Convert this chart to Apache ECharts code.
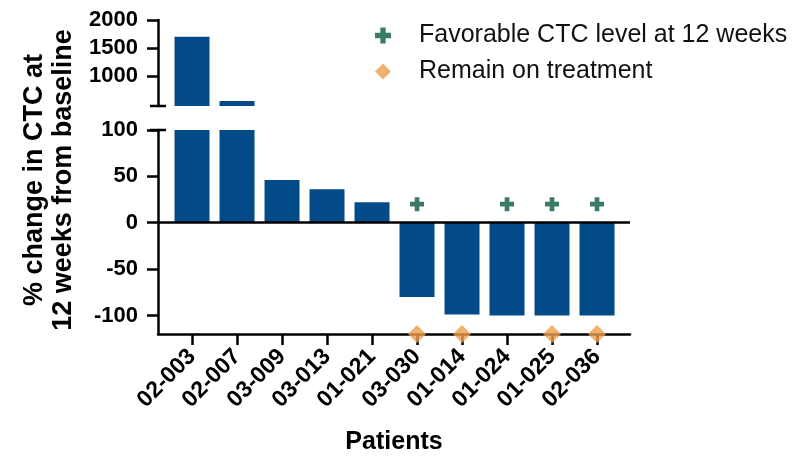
<!DOCTYPE html>
<html>
<head>
<meta charset="utf-8">
<script src="https://cdn.jsdelivr.net/npm/echarts@6/dist/echarts.min.js"></script>
<style>
  html, body { margin: 0; padding: 0; background: #fff; }
  #chart { width: 797px; height: 456px; }
</style>
</head>
<body>
<div id="chart"></div>
<script>
// data
const patients = ['02-003', '02-007', '03-009', '03-013', '01-021', '03-030', '01-014', '01-024', '01-025', '02-036'];
const pctChange = [1700, 550, 46, 36, 22, -80, -99, -100, -100, -100];
const favorable = ['03-030', '01-024', '01-025', '02-036'];
const onTreatment = ['03-030', '01-014', '01-025', '02-036'];
const favorableLevel = 20;
const treatmentLevel = -120;
const upperTicks = [1000, 1500, 2000];
const lowerTicks = [-100, -50, 0, 50, 100];

const FONT = "'Liberation Sans', Arial, sans-serif";
const BAR = '#034a88';
const GREEN = '#0a5a40';
const ORANGE = '#ee9d4c';
const PLUS = 'path://M4,0H8V4H12V8H8V12H4V8H0V4H4Z';

const idx = patients.map((p, i) => i);
const barData = pctChange.map((v, i) => [i, v]);
const favData = favorable.map(p => [patients.indexOf(p), favorableLevel]);
const treatData = onTreatment.map(p => [patients.indexOf(p), treatmentLevel]);

const axisStroke = { color: '#000', width: 2.5 };
const tickFont = { fontSize: 22, fontWeight: 'bold', color: '#000', fontFamily: FONT };

let chart = echarts.init(document.getElementById('chart'));
chart.setOption({
    animation: false,
    textStyle: { fontFamily: FONT },
    legend: {
        orient: 'vertical',
        left: 370,
        top: 18,
        itemWidth: 16,
        itemHeight: 16,
        itemGap: 11,
        textStyle: { fontSize: 25, color: '#111', fontFamily: FONT, padding: [0, 0, 0, 23] },
        data: ['Favorable CTC level at 12 weeks', 'Remain on treatment']
    },
    grid: [
        { left: 158, right: 167, top: 20, height: 86 },
        { left: 158, right: 167, top: 130, height: 204 }
    ],
    xAxis: [
        {
            gridIndex: 0, type: 'value', min: -0.756, max: 9.733,
            axisLine: { show: false }, axisTick: { show: false },
            axisLabel: { show: false }, splitLine: { show: false }
        },
        {
            gridIndex: 1, type: 'value', min: -0.756, max: 9.733,
            axisLine: { onZero: false, lineStyle: axisStroke },
            axisTick: { customValues: idx, length: 11, lineStyle: axisStroke },
            axisLabel: Object.assign({
                customValues: idx,
                formatter: v => patients[v],
                rotate: 45, margin: 19
            }, tickFont, { fontSize: 23 }),
            splitLine: { show: false },
            name: 'Patients',
            nameLocation: 'middle',
            nameGap: 96,
            nameTextStyle: { fontSize: 25, fontWeight: 'bold', color: '#000', fontFamily: FONT }
        }
    ],
    yAxis: [
        {
            gridIndex: 0, type: 'value', min: 460, max: 2000,
            axisLine: { show: true, onZero: false, lineStyle: axisStroke, symbol: ['rect', 'none'], symbolSize: [16, 2.5] },
            axisTick: { show: true, customValues: upperTicks, length: 11, lineStyle: axisStroke },
            axisLabel: Object.assign({ customValues: upperTicks, margin: 20, formatter: v => String(v) }, tickFont),
            splitLine: { show: false }
        },
        {
            gridIndex: 1, type: 'value', min: -120, max: 100,
            axisLine: { show: true, onZero: false, lineStyle: axisStroke, symbol: ['none', 'rect'], symbolSize: [16, 2.5] },
            axisTick: { show: true, customValues: lowerTicks, length: 11, lineStyle: axisStroke },
            axisLabel: Object.assign({ customValues: lowerTicks, margin: 20, formatter: v => String(v) }, tickFont),
            splitLine: { show: false }
        }
    ],
    graphic: [{
        type: 'text',
        x: 49, y: 180,
        rotation: Math.PI / 2,
        style: {
            text: '% change in CTC at\n12 weeks from baseline',
            fontSize: 27, fontWeight: 'bold', fontFamily: FONT,
            lineHeight: 29, fill: '#000',
            align: 'center', verticalAlign: 'middle'
        }
    }],
    series: [
        {
            type: 'bar', xAxisIndex: 0, yAxisIndex: 0,
            barWidth: 35, itemStyle: { color: BAR },
            data: barData
        },
        {
            type: 'bar', xAxisIndex: 1, yAxisIndex: 1,
            barWidth: 35, itemStyle: { color: BAR },
            data: barData,
            markLine: {
                silent: true, symbol: 'none',
                label: { show: false },
                lineStyle: { color: '#000', width: 2.5, type: 'solid' },
                data: [{ yAxis: 0 }]
            }
        },
        {
            name: 'Favorable CTC level at 12 weeks',
            type: 'scatter', xAxisIndex: 1, yAxisIndex: 1,
            symbol: PLUS, symbolSize: 14,
            itemStyle: { color: GREEN },
            data: favData
        },
        {
            name: 'Remain on treatment',
            type: 'scatter', xAxisIndex: 1, yAxisIndex: 1,
            symbol: 'diamond', symbolSize: 18, clip: false, z: 5,
            itemStyle: { color: ORANGE },
            data: treatData
        }
    ]
});
</script>
</body>
</html>
